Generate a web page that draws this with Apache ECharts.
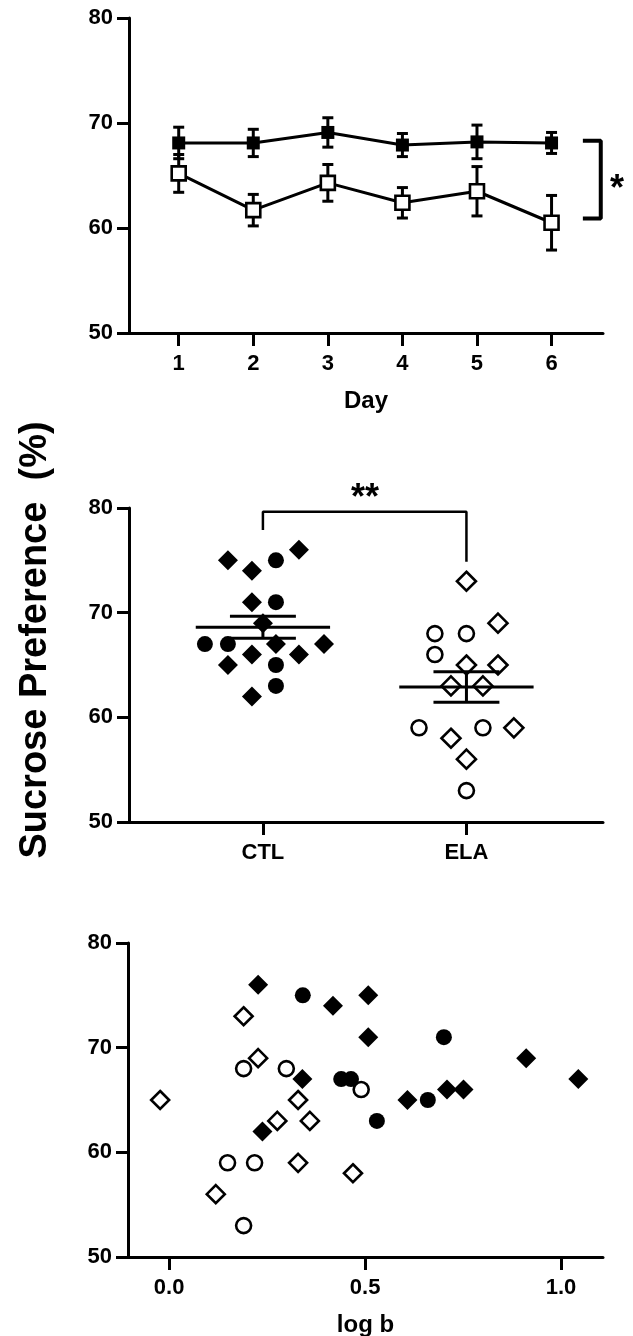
<!DOCTYPE html>
<html>
<head>
<meta charset="utf-8">
<script src="https://cdn.jsdelivr.net/npm/echarts@6/dist/echarts.min.js"></script>
<style>
  html, body { margin: 0; padding: 0; background: #fff; }
  #chart { width: 633px; height: 1336px; }
</style>
</head>
<body>
<div id="chart"></div>
<script>
// top panel: daily preference, mean +/- SEM
const days = [1, 2, 3, 4, 5, 6]
const ctlDayMean = [68.1, 68.1, 69.1, 67.9, 68.2, 68.1]
const ctlDaySem = [1.5, 1.3, 1.4, 1.1, 1.6, 1.0]
const elaDayMean = [65.2, 61.7, 64.3, 62.4, 63.5, 60.5]
const elaDaySem = [1.8, 1.5, 1.75, 1.45, 2.35, 2.6]
const dayBracket = [[6.42, 68.3], [6.66, 68.3], [6.66, 60.9], [6.42, 60.9]]

// middle panel: individual animals (x = group + jitter)
const groupNames = ['CTL', 'ELA']
const ctlDiamonds = [[0.828, 75], [0.946, 74], [1.177, 76], [0.946, 71], [1.0, 69], [1.064, 67],
  [1.300, 67], [0.946, 66], [1.177, 66], [0.828, 65], [0.946, 62]]
const ctlCircles = [[1.064, 75], [1.064, 71], [0.715, 67], [0.828, 67], [1.064, 65], [1.064, 63]]
const elaDiamonds = [[2.0, 73], [2.155, 69], [2.0, 65], [2.155, 65], [1.924, 63], [2.081, 63],
  [2.233, 59], [1.924, 58], [2.0, 56]]
const elaCircles = [[1.845, 68], [2.0, 68], [1.845, 66], [1.767, 59], [2.081, 59], [2.0, 53]]
const groupMeanSem = [[1, 68.6, 1.05], [2, 62.9, 1.45]]
const groupBracket = [[1, 77.9], [1, 79.65], [2, 79.65], [2, 74.87]]

// bottom panel: preference vs log b
const ctlDiamondsB = [[0.227, 76], [0.418, 74], [0.508, 75], [0.508, 71], [0.340, 67], [0.238, 62],
  [0.608, 65], [0.709, 66], [0.751, 66], [0.911, 69], [1.044, 67]]
const ctlCirclesB = [[0.341, 75], [0.701, 71], [0.439, 67], [0.464, 67], [0.660, 65], [0.530, 63]]
const elaDiamondsB = [[-0.023, 65], [0.190, 73], [0.227, 69], [0.329, 65], [0.276, 63], [0.359, 63],
  [0.329, 59], [0.469, 58], [0.119, 56]]
const elaCirclesB = [[0.190, 68], [0.299, 68], [0.490, 66], [0.149, 59], [0.218, 59], [0.190, 53]]

const logTicks = [0, 0.5, 1.0]

const FONT = 'Liberation Sans, Arial, sans-serif'
const chart = echarts.init(document.getElementById('chart'))

function axisBase() {
  return {
    axisLine: { onZero: false, lineStyle: { color: '#000', width: 3 } },
    axisTick: { length: 12, lineStyle: { color: '#000', width: 3 } },
    splitLine: { show: false },
    axisLabel: { color: '#000', fontSize: 22, fontWeight: 'bold', fontFamily: FONT }
  }
}

function yAxis(gridIndex) {
  const a = axisBase()
  return Object.assign(a, {
    type: 'value', gridIndex, min: 50, max: 80, interval: 10,
    axisLabel: Object.assign(a.axisLabel, { margin: 16 })
  })
}

function xAxis(gridIndex, min, max, ticks, fmt, name) {
  const a = axisBase()
  return Object.assign(a, {
    type: 'value', gridIndex, min, max,
    name, nameLocation: 'middle', nameGap: 56,
    nameTextStyle: { color: '#000', fontSize: 24, fontWeight: 'bold', fontFamily: FONT },
    axisTick: Object.assign(a.axisTick, { customValues: ticks, length: 13 }),
    axisLabel: Object.assign(a.axisLabel, { customValues: ticks, formatter: fmt, margin: 20 })
  })
}

function errorBars(capHalf) {
  return function (params, api) {
    const x = api.value(0)
    const lo = api.coord([x, api.value(1)])
    const hi = api.coord([x, api.value(2)])
    const st = { stroke: '#000', lineWidth: 3 }
    return {
      type: 'group',
      children: [
        { type: 'line', shape: { x1: lo[0], y1: lo[1], x2: hi[0], y2: hi[1] }, style: st },
        { type: 'line', shape: { x1: hi[0] - capHalf, y1: hi[1], x2: hi[0] + capHalf, y2: hi[1] }, style: st },
        { type: 'line', shape: { x1: lo[0] - capHalf, y1: lo[1], x2: lo[0] + capHalf, y2: lo[1] }, style: st }
      ]
    }
  }
}

function meanSem(params, api) {
  const x = api.value(0), m = api.value(1), s = api.value(2)
  const st = { stroke: '#000', lineWidth: 3 }
  const l = api.coord([x - 0.33, m]), r = api.coord([x + 0.33, m])
  const top = api.coord([x, m + s]), bot = api.coord([x, m - s])
  const cl = api.coord([x - 0.162, m]), cr = api.coord([x + 0.162, m])
  return {
    type: 'group',
    children: [
      { type: 'line', shape: { x1: l[0], y1: l[1], x2: r[0], y2: r[1] }, style: st },
      { type: 'line', shape: { x1: top[0], y1: top[1], x2: bot[0], y2: bot[1] }, style: st },
      { type: 'line', shape: { x1: cl[0], y1: top[1], x2: cr[0], y2: top[1] }, style: st },
      { type: 'line', shape: { x1: cl[0], y1: bot[1], x2: cr[0], y2: bot[1] }, style: st }
    ]
  }
}

function scatter(idx, data, symbol, size, open) {
  return {
    type: 'scatter', xAxisIndex: idx, yAxisIndex: idx, data, symbol, symbolSize: size, z: 3,
    itemStyle: open
      ? { color: '#fff', borderColor: '#000', borderWidth: 2.6, opacity: 1 }
      : { color: '#000', opacity: 1 }
  }
}

const option = {
  animation: false,
  backgroundColor: '#fff',
  grid: [
    { left: 129, top: 18, width: 474, height: 315, outerBoundsMode: 'none' },
    { left: 129, top: 508, width: 474, height: 314, outerBoundsMode: 'none' },
    { left: 128, top: 943, width: 475, height: 314, outerBoundsMode: 'none' }
  ],
  xAxis: [
    xAxis(0, 1 / 3, 6.69, days, v => String(v), 'Day'),
    xAxis(1, 0.342, 2.671, [1, 2], v => groupNames[Math.round(v) - 1], ''),
    xAxis(2, -0.105, 1.107, logTicks, v => v.toFixed(1), 'log b')
  ],
  yAxis: [yAxis(0), yAxis(1), yAxis(2)],
  series: [
    // top panel
    {
      type: 'custom', xAxisIndex: 0, yAxisIndex: 0, z: 1,
      renderItem: errorBars(5.5),
      data: days.map((d, i) => [d, ctlDayMean[i] - ctlDaySem[i], ctlDayMean[i] + ctlDaySem[i]])
        .concat(days.map((d, i) => [d, elaDayMean[i] - elaDaySem[i], elaDayMean[i] + elaDaySem[i]]))
    },
    {
      type: 'line', xAxisIndex: 0, yAxisIndex: 0, z: 2,
      data: days.map((d, i) => [d, ctlDayMean[i]]),
      symbol: 'rect', symbolSize: 13, showAllSymbol: true,
      lineStyle: { color: '#000', width: 3 },
      itemStyle: { color: '#000', borderWidth: 0 }
    },
    {
      type: 'line', xAxisIndex: 0, yAxisIndex: 0, z: 2,
      data: days.map((d, i) => [d, elaDayMean[i]]),
      symbol: 'rect', symbolSize: 14, showAllSymbol: true,
      lineStyle: { color: '#000', width: 3 },
      itemStyle: { color: '#fff', borderColor: '#000', borderWidth: 2.6 }
    },
    {
      type: 'line', xAxisIndex: 0, yAxisIndex: 0, data: dayBracket, symbol: 'none',
      lineStyle: { color: '#000', width: 4 }, clip: false
    },
    // middle panel
    scatter(1, ctlDiamonds, 'diamond', 20, false),
    scatter(1, ctlCircles, 'circle', 16, false),
    scatter(1, elaDiamonds, 'diamond', 19, true),
    scatter(1, elaCircles, 'circle', 15, true),
    { type: 'custom', xAxisIndex: 1, yAxisIndex: 1, z: 4, renderItem: meanSem, data: groupMeanSem },
    {
      type: 'line', xAxisIndex: 1, yAxisIndex: 1, data: groupBracket, symbol: 'none',
      lineStyle: { color: '#000', width: 2.5 }
    },
    // bottom panel
    scatter(2, ctlDiamondsB, 'diamond', 20, false),
    scatter(2, ctlCirclesB, 'circle', 16, false),
    scatter(2, elaDiamondsB, 'diamond', 18, true),
    scatter(2, elaCirclesB, 'circle', 15, true)
  ],
  graphic: [
    {
      type: 'text', x: 36, y: 640, rotation: Math.PI / 2,
      style: {
        text: 'Sucrose Preference  (%)', fill: '#000', font: 'bold 38px ' + FONT,
        align: 'center', verticalAlign: 'middle'
      }
    },
    {
      type: 'text', x: 617, y: 190,
      style: { text: '*', fill: '#000', font: 'bold 36px ' + FONT, align: 'center', verticalAlign: 'middle' }
    },
    {
      type: 'text', x: 365, y: 499,
      style: { text: '**', fill: '#000', font: 'bold 36px ' + FONT, align: 'center', verticalAlign: 'middle' }
    }
  ]
}

chart.setOption(option)
</script>
</body>
</html>
